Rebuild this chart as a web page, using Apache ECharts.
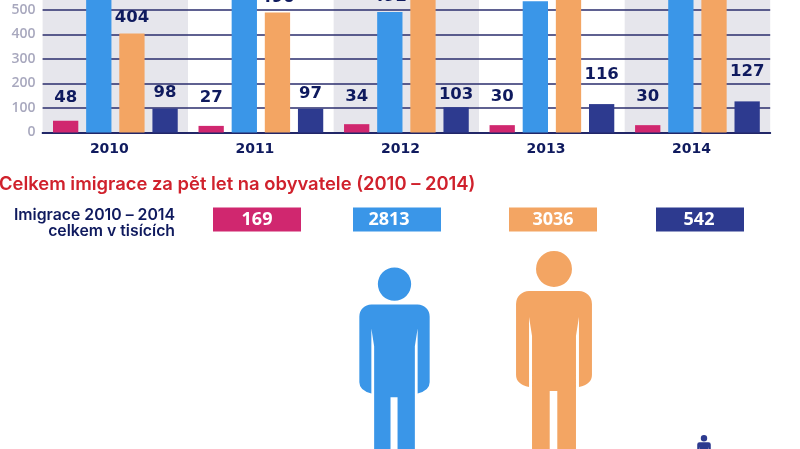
<!DOCTYPE html>
<html>
<head>
<meta charset="utf-8">
<style>html,body{margin:0;padding:0;background:#fff}#main{width:800px;height:449px}</style>
<script src="https://cdn.jsdelivr.net/npm/echarts@6/dist/echarts.min.js"></script>
</head>
<body>
<div id="main"></div>
<script>
// data (blue/orange tops above the crop are estimates)
var years = ['2010', '2011', '2012', '2013', '2014'];
var pink = [48, 27, 34, 30, 30];
var blue = [590, 600, 492, 536, 589];
var orange = [404, 490, 660, 720, 756];
var navy = [98, 97, 103, 116, 127];
var totalsCat = ['a', 'b', 'c', 'd'];
var totals = [169, 2813, 3036, 542];

var NAVY_TEXT = '#0f1a5e';
var colors = ['#d0276f', '#3a96e8', '#f3a563', '#2d3a8f'];
// gap between bar top and its label, px
var pinkGap = [15, 20, 19, 20, 20];
var blueGap = [6, 6, 6.5, 6, 6];
var orangeGap = [7, 6.5, 6, 6, 6];
var navyGap = [7, 7, 4, 21, 21];
// boxes and people are not evenly spaced in the original
var boxShift = [0, -8, 0, -1];
var personShift = [0, -10.5, 1, 3];

var personPath = 'path://M38 0a18 18 0 1 1 0 36a18 18 0 1 1 0-36ZM13 40H63a13 13 0 0 1 13 13V124Q76 133 63 136V66L60 85V224H41.3V140H33.7V224H16V85L13 66V136Q0 133 0 124V53A13 13 0 0 1 13 40Z';

function barSeries(name, vals, gaps, color) {
    return {
        name: name,
        type: 'bar',
        barWidth: 25.3,
        barGap: '31%',
        itemStyle: {color: color},
        data: vals.map(function (v, i) {
            return {
                value: v,
                label: {
                    show: true,
                    position: 'top',
                    distance: gaps[i],
                    color: NAVY_TEXT,
                    fontFamily: 'DejaVu Sans',
                    fontWeight: 'bold',
                    fontSize: 16.5
                }
            };
        })
    };
}

var myChart = echarts.init(document.getElementById('main'));

var option = {
    backgroundColor: '#fff',
    animation: false,
    title: {
        text: 'Celkem imigrace za pět let na obyvatele (2010 – 2014)',
        left: -1,
        top: 175,
        padding: 0,
        textStyle: {color: '#d0212c', fontFamily: 'Inter', fontWeight: 600, fontSize: 18.4}
    },
    grid: [
        {left: 42.6, width: 727.6, top: -63.5, height: 196, outerBoundsMode: 'none'},
        {left: 183, width: 592, top: 207.5, height: 24, outerBoundsMode: 'none'},
        {left: 183, width: 592, top: 0, height: 475, outerBoundsMode: 'none'}
    ],
    xAxis: [
        {
            type: 'category',
            gridIndex: 0,
            z: 0,
            data: years,
            axisTick: {show: false},
            axisLine: {lineStyle: {color: NAVY_TEXT, width: 2}},
            axisLabel: {
                color: NAVY_TEXT,
                fontFamily: 'DejaVu Sans',
                fontWeight: 'bold',
                fontSize: 14,
                margin: 10,
                padding: [0, 12, 0, 0]
            },
            splitArea: {show: true, areaStyle: {color: ['#e6e6ec', '#ffffff']}}
        },
        {type: 'category', gridIndex: 1, data: totalsCat, show: false},
        {type: 'category', gridIndex: 2, data: totalsCat, show: false}
    ],
    yAxis: [
        {
            type: 'value',
            gridIndex: 0,
            z: 1,
            min: 0,
            max: 800,
            interval: 100,
            axisLine: {show: false},
            axisTick: {show: false},
            axisLabel: {
                color: '#a8a8be',
                fontFamily: 'Open Sans',
                fontWeight: 600,
                fontSize: 14,
                margin: 7,
                padding: [0, 0, 7, 0]
            },
            splitLine: {lineStyle: {color: '#2a2c6c', width: 1.5}}
        },
        {type: 'category', gridIndex: 1, data: ['celkem'], show: false},
        {type: 'value', gridIndex: 2, min: 0, max: 475 / 0.0738, show: false, splitLine: {show: false}}
    ],
    series: [
        barSeries('pink', pink, pinkGap, colors[0]),
        barSeries('blue', blue, blueGap, colors[1]),
        barSeries('orange', orange, orangeGap, colors[2]),
        barSeries('navy', navy, navyGap, colors[3]),
        {
            name: 'celkem',
            type: 'scatter',
            xAxisIndex: 1,
            yAxisIndex: 1,
            symbol: 'rect',
            symbolSize: [88, 24],
            data: totals.map(function (v, i) {
                return {
                    value: [totalsCat[i], 'celkem', v],
                    symbolOffset: [boxShift[i], 0],
                    itemStyle: {color: colors[i], opacity: 1},
                    label: {
                        show: true,
                        position: 'inside',
                        offset: [boxShift[i], 0],
                        formatter: String(v),
                        color: '#fff',
                        fontFamily: 'Open Sans',
                        fontWeight: 'bold',
                        fontSize: 18
                    }
                };
            })
        },
        {
            name: 'people',
            type: 'pictorialBar',
            xAxisIndex: 2,
            yAxisIndex: 2,
            symbol: personPath,
            symbolPosition: 'start',
            data: totals.map(function (v, i) {
                return {
                    value: v,
                    // figure height follows the total, width keeps the aspect
                    symbolSize: [v * 0.025, '100%'],
                    symbolOffset: [personShift[i], 0],
                    itemStyle: {color: colors[i]}
                };
            })
        }
    ],
    graphic: [
        {
            type: 'text',
            x: 175,
            y: 207.5,
            style: {
                text: 'Imigrace 2010 – 2014\ncelkem v tisících',
                align: 'right',
                fill: NAVY_TEXT,
                font: '600 15.8px Inter',
                lineHeight: 16
            }
        }
    ]
};

myChart.setOption(option);

window.addEventListener('resize', function () {
    myChart.resize();
});
</script>
</body>
</html>
